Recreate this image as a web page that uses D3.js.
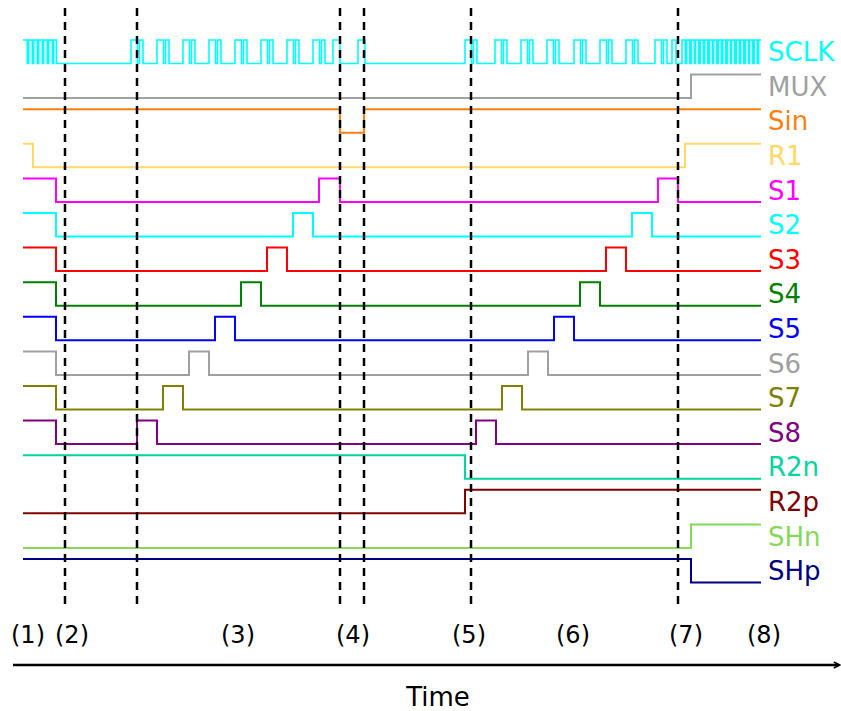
<!DOCTYPE html>
<html><head><meta charset="utf-8">
<script src="https://cdn.jsdelivr.net/npm/d3@7/dist/d3.min.js"></script>
<style>html,body{margin:0;padding:0;background:#fff;}svg{display:block;}</style>
</head><body>
<svg id="chart" width="841" height="711"></svg>
<script>
// ---- data (time in arbitrary units) ----
const signalNames = ["SCLK","MUX","Sin","R1","S1","S2","S3","S4","S5","S6","S7","S8","R2n","R2p","SHn","SHp"];
const signalColors = ["#00ffff","#a0a0a0","#ff7f0e","#ffd966","#ff00ff","#00ffff","#ff0000","#008000","#0000ff","#a0a0a0","#808000","#800080","#00d4a0","#800000","#88d858","#000080"];
const initialLevels = [1,0,1,1,1,1,1,1,1,1,1,1,1,0,0,1];

// SCLK high intervals [rise, fall]
const sclkBurst1 = [[0,4.3],[5.7,9.3],[10.7,14.3],[15.7,19.3],[20.7,24.3],[25.7,29.3],[30.7,33.5]];
const sclkMid1 = [[108,114.5],[116.5,120],[134,140.5],[142.5,146],[160,166.5],[168.5,172],[186,192.5],[194.5,198],
  [212,218.5],[220.5,224],[238,244.5],[246.5,250],[264,270.5],[272.5,276],[290,296.5],[298.5,302],[310,317],[335,342]];
const sclkMid2 = [[442,448.5],[450.5,454],[472,478.5],[480.5,484],[498,504.5],[506.5,510],[524,530.5],[532.5,536],
  [551,557.5],[559.5,563],[577,583.5],[585.5,589],[603,609.5],[611.5,615],[632,638.5],[640.5,644],[649,653]];
const sclkBurst2 = [[659,662.3],[663.7,666.8],[668.2,671.3],[672.7,675.8],[677.2,680.3],[681.7,684.8],[686.2,689.3],
  [690.7,693.8],[695.2,698.3],[699.7,702.8],[704.2,707.3],[708.7,711.8],[713.2,716.3],[717.7,720.8],[722.2,725.3],
  [726.7,729.8],[731.2,734.3],[735.7,738]];

// toggle times for the other signals
const muxToggles = [668];
const sinToggles = [317, 341];
const r1Toggles = [10, 662];
const s1Toggles = [33, 296, 317, 635, 655];
const s2Toggles = [33, 270, 290, 609, 629];
const s3Toggles = [33, 244, 264, 583, 603];
const s4Toggles = [33, 218, 238, 557, 577];
const s5Toggles = [33, 192, 212, 531, 551];
const s6Toggles = [33, 166, 186, 505, 525];
const s7Toggles = [33, 140, 160, 479, 499];
const s8Toggles = [33, 114, 134, 453, 473];
const r2nToggles = [442];
const r2pToggles = [442];
const shnToggles = [668];
const shpToggles = [668];

const markerTimes = [42, 114, 317, 341, 448, 655];
const phaseLabels = ["(1)","(2)","(3)","(4)","(5)","(6)","(7)","(8)"];
const phaseTimes = [5, 49, 215, 330, 446, 550, 663, 741];
const timeDomain = [0, 738];

// ---- build ----
const sclkIntervals = [...sclkBurst1, ...sclkMid1, ...sclkMid2, ...sclkBurst2];
const sclkToggles = sclkIntervals.flat().filter(t => t > timeDomain[0] && t < timeDomain[1]);
const toggleLists = [sclkToggles, muxToggles, sinToggles, r1Toggles, s1Toggles, s2Toggles, s3Toggles, s4Toggles,
  s5Toggles, s6Toggles, s7Toggles, s8Toggles, r2nToggles, r2pToggles, shnToggles, shpToggles];

const svg = d3.select("#chart");
const x = d3.scaleLinear().domain(timeDomain).range([23, 761]);
const row = d3.scaleBand().domain(signalNames).range([34.5, 34.5 + 34.6 * 16]).paddingInner(0).paddingOuter(0);
const amp = 23.5;
const highY = name => row(name) + 5.5;
const lowY = name => highY(name) + amp;

function steps(name, init, toggles) {
  const pts = [];
  let lvl = init;
  let y = lvl ? highY(name) : lowY(name);
  pts.push([x(timeDomain[0]), y]);
  toggles.forEach(t => {
    pts.push([x(t), y]);
    lvl = 1 - lvl;
    y = lvl ? highY(name) : lowY(name);
    pts.push([x(t), y]);
  });
  pts.push([x(timeDomain[1]), y]);
  return pts;
}

const line = d3.line();
signalNames.forEach((name, i) => {
  svg.append("path")
    .attr("d", line(steps(name, initialLevels[i], toggleLists[i])))
    .attr("fill", "none")
    .attr("stroke", signalColors[i])
    .attr("stroke-width", name === "SCLK" ? 1.6 : 2)
    .attr("stroke-linejoin", "miter");
  svg.append("text")
    .attr("x", 768)
    .attr("y", (highY(name) + lowY(name)) / 2)
    .attr("dy", "0.36em")
    .attr("fill", signalColors[i])
    .attr("font-family", "DejaVu Sans")
    .attr("font-size", 26)
    .text(name);
});

// dashed markers
svg.selectAll("line.marker").data(markerTimes).join("line")
  .attr("class", "marker")
  .attr("x1", d => x(d)).attr("x2", d => x(d))
  .attr("y1", 8).attr("y2", 610)
  .attr("stroke", "#000").attr("stroke-width", 2.5)
  .attr("stroke-dasharray", "8,6");

// phase labels
svg.selectAll("text.phase").data(phaseLabels).join("text")
  .attr("class", "phase")
  .attr("x", (d, i) => x(phaseTimes[i]))
  .attr("y", 643)
  .attr("text-anchor", "middle")
  .attr("font-family", "DejaVu Sans")
  .attr("font-size", 24)
  .attr("fill", "#000")
  .text(d => d);

// time arrow
svg.append("defs").append("marker")
  .attr("id", "arrow").attr("viewBox", "0 0 10 10").attr("refX", 8).attr("refY", 5)
  .attr("markerWidth", 3).attr("markerHeight", 4).attr("orient", "auto")
  .append("path").attr("d", "M1,1 L9,5 L1,9").attr("fill", "none").attr("stroke", "#000").attr("stroke-width", 2);
svg.append("line")
  .attr("x1", 13).attr("x2", 839).attr("y1", 665).attr("y2", 665)
  .attr("stroke", "#000").attr("stroke-width", 2.5)
  .attr("marker-end", "url(#arrow)");
svg.append("text")
  .attr("x", 438).attr("y", 706)
  .attr("text-anchor", "middle")
  .attr("font-family", "DejaVu Sans")
  .attr("font-size", 26)
  .text("Time");
</script>
</body></html>
